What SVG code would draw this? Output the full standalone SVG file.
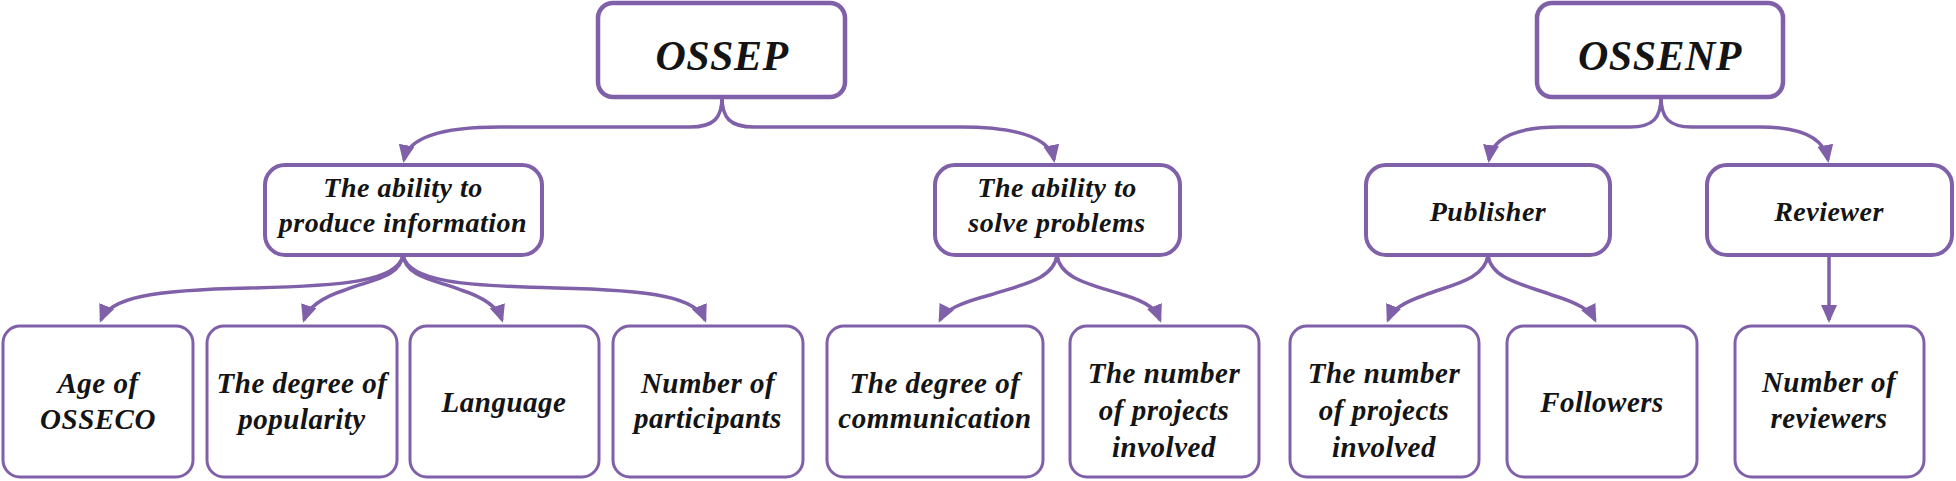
<svg xmlns="http://www.w3.org/2000/svg" width="1956" height="481" viewBox="0 0 1956 481" font-family="Liberation Serif, Times New Roman, serif">
<style>
.box{fill:#fff;stroke:#8061a9}
.top{stroke-width:4.5}
.mid{stroke-width:4}
.leaf{stroke-width:3}
.lbl{font-family:'Liberation Serif','Times New Roman',serif;font-weight:700;font-style:italic;fill:#141414;text-anchor:middle;letter-spacing:0.5px}
.t1{font-size:42px}
.t2{font-size:28px}
.t3{font-size:29px}
.c{fill:none;stroke:#8061a9;stroke-width:3.5}
</style>
<defs>
<marker id="ah" markerUnits="userSpaceOnUse" markerWidth="20" markerHeight="18" refX="15" refY="8" orient="auto">
<path d="M0,0 L18,8 L0,16 z" fill="#8061a9"/>
</marker>
</defs>
<rect width="1956" height="481" fill="#fff"/>
<g id="connectors">
<path class="c" marker-end="url(#ah)" d="M722,97 C722,118 714,127 690,127 L500,127 C440,127 408,138 404,160"/>
<path class="c" marker-end="url(#ah)" d="M722,97 C722,118 730,127 754,127 L960,127 C1020,127 1050,138 1054,160"/>
<path class="c" marker-end="url(#ah)" d="M1661,97 C1661,118 1653,127 1630,127 L1560,127 C1515,127 1492,138 1489,160"/>
<path class="c" marker-end="url(#ah)" d="M1661,97 C1661,118 1669,127 1692,127 L1760,127 C1800,127 1824,138 1828,160"/>
<path class="c" marker-end="url(#ah)" d="M403,255 C398,282 340,286 250,288 C150,290 110,298 101,320"/>
<path class="c" marker-end="url(#ah)" d="M403,255 C400,278 370,280 345,290 C320,298 308,308 304,320"/>
<path class="c" marker-end="url(#ah)" d="M403,255 C406,278 436,280 461,290 C486,298 498,308 502,320"/>
<path class="c" marker-end="url(#ah)" d="M403,255 C408,282 466,286 556,288 C656,290 696,298 705,320"/>
<path class="c" marker-end="url(#ah)" d="M1057,255 C1054,280 1020,285 990,295 C960,303 945,310 940,320"/>
<path class="c" marker-end="url(#ah)" d="M1057,255 C1060,280 1094,285 1124,295 C1150,303 1156,310 1160,320"/>
<path class="c" marker-end="url(#ah)" d="M1488,255 C1485,280 1450,285 1425,295 C1402,303 1392,310 1388,320"/>
<path class="c" marker-end="url(#ah)" d="M1488,255 C1491,280 1526,285 1552,295 C1578,303 1590,310 1595,320"/>
<path class="c" marker-end="url(#ah)" d="M1829,255 L1829,320"/>
</g>
<g id="ossep"><rect class="box top" x="598" y="3" width="247" height="94" rx="15"/><text class="lbl t1" x="722" y="70">OSSEP</text></g>
<g id="ossenp"><rect class="box top" x="1537" y="3" width="246" height="94" rx="15"/><text class="lbl t1" x="1660" y="70">OSSENP</text></g>
<g id="produce"><rect class="box mid" x="265" y="165" width="277" height="90" rx="20"/><text class="lbl t2" x="403" y="197">The ability to</text><text class="lbl t2" x="403" y="232">produce information</text></g>
<g id="solve"><rect class="box mid" x="935" y="165" width="245" height="90" rx="20"/><text class="lbl t2" x="1057" y="197">The ability to</text><text class="lbl t2" x="1057" y="232">solve problems</text></g>
<g id="publisher"><rect class="box mid" x="1366" y="165" width="244" height="90" rx="20"/><text class="lbl t2" x="1488" y="221">Publisher</text></g>
<g id="reviewer"><rect class="box mid" x="1707" y="165" width="245" height="90" rx="20"/><text class="lbl t2" x="1829" y="221">Reviewer</text></g>
<g id="age"><rect class="box leaf" x="3" y="326" width="190" height="151" rx="17"/><text class="lbl t3" x="98" y="393">Age of</text><text class="lbl t3" x="98" y="429">OSSECO</text></g>
<g id="popularity"><rect class="box leaf" x="207" y="326" width="190" height="151" rx="17"/><text class="lbl t3" x="302" y="393">The degree of</text><text class="lbl t3" x="302" y="429">popularity</text></g>
<g id="language"><rect class="box leaf" x="410" y="326" width="189" height="151" rx="17"/><text class="lbl t3" x="504" y="412">Language</text></g>
<g id="participants"><rect class="box leaf" x="613" y="326" width="190" height="151" rx="17"/><text class="lbl t3" x="708" y="393">Number of</text><text class="lbl t3" x="708" y="428">participants</text></g>
<g id="communication"><rect class="box leaf" x="827" y="326" width="216" height="151" rx="17"/><text class="lbl t3" x="935" y="393">The degree of</text><text class="lbl t3" x="935" y="428">communication</text></g>
<g id="projects1"><rect class="box leaf" x="1070" y="326" width="189" height="151" rx="17"/><text class="lbl t3" x="1164" y="383">The number</text><text class="lbl t3" x="1164" y="420">of projects</text><text class="lbl t3" x="1164" y="457">involved</text></g>
<g id="projects2"><rect class="box leaf" x="1290" y="326" width="189" height="151" rx="17"/><text class="lbl t3" x="1384" y="383">The number</text><text class="lbl t3" x="1384" y="420">of projects</text><text class="lbl t3" x="1384" y="457">involved</text></g>
<g id="followers"><rect class="box leaf" x="1507" y="326" width="190" height="151" rx="17"/><text class="lbl t3" x="1602" y="412">Followers</text></g>
<g id="reviewers"><rect class="box leaf" x="1735" y="326" width="189" height="151" rx="17"/><text class="lbl t3" x="1829" y="392">Number of</text><text class="lbl t3" x="1829" y="428">reviewers</text></g>
</svg>
